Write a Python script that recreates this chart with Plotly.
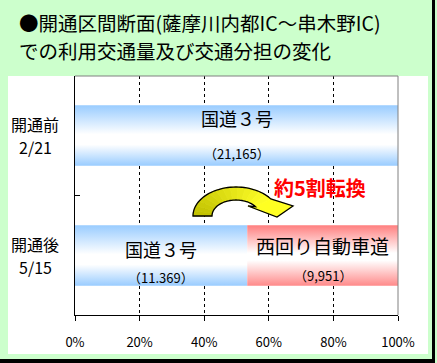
import math
import plotly.graph_objects as go

# ---------------- data ----------------
periods = ["開通前", "開通後"]
dates = ["2/21", "5/15"]
route_names = ["国道３号", "西回り自動車道"]
before_volume = [21165]            # 国道３号 only
after_volume = [11369, 9951]       # 国道３号, 西回り自動車道
before_count_text = ["（21,165）"]
after_count_text = ["（11.369）", "（9,951）"]
x_tick_vals = [0, 20, 40, 60, 80, 100]
x_tick_text = ["0%", "20%", "40%", "60%", "80%", "100%"]
grid_vals = [20, 40, 60, 80]
shift_text = "約5割転換"
title_lines = ["●開通区間断面(薩摩川内都IC～串木野IC)", "での利用交通量及び交通分担の変化"]

FONT = "Noto Sans CJK JP"
# gradient stops run bottom -> top of each bar
BLUE_SCALE = [[0, "#99CCFF"], [0.35, "#FFFFFF"], [0.52, "#FFFFFF"], [1, "#99CCFF"]]
RED_SCALE = [[0, "#FF8A8A"], [0.42, "#FFFFFF"], [0.54, "#FFFFFF"], [1, "#FF7F7F"]]

# ---------------- layout geometry (pixels) ----------------
W, H = 437, 363
L, R, T, B = 75, 398, 76, 315


def px(x):
    return (x - L) / (R - L)


def py(y):
    return (B - y) / (B - T)


UNIT = 120.0  # pixels per y unit
BAR_HALF = 0.252
rows = [
    {"y": 1, "values": before_volume, "counts": before_count_text, "scales": [BLUE_SCALE],
     "name_dy": [0.146], "count_dy": [-0.146], "name_size": [18]},
    {"y": 0, "values": after_volume, "counts": after_count_text, "scales": [BLUE_SCALE, RED_SCALE],
     "name_dy": [0.05, 0.085], "count_dy": [-0.18, -0.167], "name_size": [18, 19]},
]

fig = go.Figure()
annotations = []

for row in rows:
    total = sum(row["values"])
    left = 0.0
    for i, v in enumerate(row["values"]):
        share = v / total * 100
        right = left + share
        yc = row["y"]
        fig.add_trace(go.Scatter(
            x=[left, right, right, left, left],
            y=[yc - BAR_HALF, yc - BAR_HALF, yc + BAR_HALF, yc + BAR_HALF, yc - BAR_HALF],
            mode="lines", fill="toself", line=dict(width=0),
            fillgradient=dict(type="vertical", colorscale=row["scales"][i]),
            hoverinfo="skip", showlegend=False,
        ))
        mid = (left + right) / 2
        annotations.append(dict(x=mid, y=yc + row["name_dy"][i], xref="x", yref="y",
                                xanchor="center", text=route_names[i], showarrow=False,
                                font=dict(family=FONT, size=row["name_size"][i], color="black")))
        annotations.append(dict(x=mid, y=yc + row["count_dy"][i], xref="x", yref="y",
                                xanchor="center", text=row["counts"][i], showarrow=False,
                                font=dict(family=FONT, size=13, color="black")))
        left = right

# category labels (two lines each)
for yc, p, d in zip([1, 0], periods, dates):
    annotations.append(dict(x=px(35), y=yc + 11.5 / UNIT, xref="paper", yref="y", text=p,
                            xanchor="center", showarrow=False,
                            font=dict(family=FONT, size=16, color="black")))
    annotations.append(dict(x=px(35), y=yc - 11.5 / UNIT, xref="paper", yref="y", text=d,
                            xanchor="center", showarrow=False,
                            font=dict(family=FONT, size=16, color="black")))

# title
annotations.append(dict(x=px(17), y=py(23), xref="paper", yref="paper", xanchor="left",
                        yanchor="middle", text=title_lines[0], showarrow=False,
                        font=dict(family=FONT, size=19.5, color="black")))
annotations.append(dict(x=px(17), y=py(50.5), xref="paper", yref="paper", xanchor="left",
                        yanchor="middle", text=title_lines[1], showarrow=False,
                        font=dict(family=FONT, size=19.5, color="black")))

# red annotation
annotations.append(dict(x=px(320), y=py(187), xref="paper", yref="paper", xanchor="center",
                        yanchor="middle", text=f"<b>{shift_text}</b>", showarrow=False,
                        font=dict(family=FONT, size=20, color="#FF0000")))

shapes = []
# white panel
shapes.append(dict(type="rect", xref="paper", yref="paper", x0=px(8), x1=px(428),
                   y0=py(354), y1=py(76), fillcolor="white", line=dict(width=0), layer="below"))
# shadow border (right and bottom)
shapes.append(dict(type="rect", xref="paper", yref="paper", x0=px(432), x1=px(435),
                   y0=py(363), y1=py(0), fillcolor="black", line=dict(width=0), layer="above"))
shapes.append(dict(type="rect", xref="paper", yref="paper", x0=px(0), x1=px(435),
                   y0=py(363), y1=py(359), fillcolor="black", line=dict(width=0), layer="above"))
# grey top / right frame
shapes.append(dict(type="line", xref="paper", yref="paper", x0=0, x1=1, y0=1, y1=1,
                   line=dict(color="#808080", width=1), layer="above"))
shapes.append(dict(type="line", xref="paper", yref="paper", x0=1, x1=1, y0=0, y1=1,
                   line=dict(color="#808080", width=1), layer="above"))

# ---------------- curved arrow (decoration) ----------------
cx, cy = 236, 216
orx, ory = 43, 29
irx, iry = 24, 16
th_end = 36


def outer(t):
    a = math.radians(t)
    return (cx + orx * math.cos(a), cy - ory * math.sin(a))


def inner(t):
    a = math.radians(t)
    return (cx + irx * math.cos(a), cy - iry * math.sin(a))


def to_path(pts):
    return "M " + " L ".join(f"{px(x):.5f},{py(y):.5f}" for x, y in pts) + " Z"


n_seg = 14
for k in range(n_seg):
    t0 = 180 - (180 - th_end) * k / n_seg
    t1 = 180 - (180 - th_end) * (k + 1) / n_seg
    steps = 4
    pts = [outer(t0 + (t1 - t0) * s / steps) for s in range(steps + 1)]
    pts += [inner(t1 - (t1 - t0) * s / steps) for s in range(steps + 1)]
    f = (k + 0.5) / n_seg
    r = int(192 + (255 - 192) * f)
    col = f"rgb({r},{r},{int(0 + 40 * f)})"
    shapes.append(dict(type="path", xref="paper", yref="paper", path=to_path(pts),
                       fillcolor=col, line=dict(color=col, width=0.8), layer="above"))

head = [outer(th_end), (293, 206), (277, 217), (248, 206), inner(th_end)]
shapes.append(dict(type="path", xref="paper", yref="paper", path=to_path(head),
                   fillcolor="#FFFF22", line=dict(color="#FFFF22", width=0.8), layer="above"))

outline = [outer(180 - (180 - th_end) * s / 40) for s in range(41)]
outline += [(293, 206), (277, 217), (248, 206)]
outline += [inner(th_end + (180 - th_end) * s / 40) for s in range(41)]
shapes.append(dict(type="path", xref="paper", yref="paper", path=to_path(outline),
                   fillcolor="rgba(0,0,0,0)", line=dict(color="black", width=1.3), layer="above"))

fig.update_layout(
    width=W, height=H,
    margin=dict(l=L, r=W - R, t=T, b=H - B, pad=0),
    paper_bgcolor="#CCFFCC",
    plot_bgcolor="white",
    showlegend=False,
    annotations=annotations,
    shapes=shapes,
    xaxis=dict(range=[0, 100], tickvals=x_tick_vals, ticktext=x_tick_text,
               showgrid=False, zeroline=False, showline=True, linecolor="black", linewidth=1,
               ticks="outside", ticklen=5, tickcolor="black", ticklabelstandoff=10,
               tickfont=dict(family=FONT, size=13, color="black"), fixedrange=True,
               minor=dict(tickvals=grid_vals, showgrid=True, gridcolor="black",
                          griddash="3px,3px", gridwidth=1, ticks="")),
    yaxis=dict(range=[-0.496, 1.496], showticklabels=False, showgrid=False, zeroline=False,
               showline=True, linecolor="black", linewidth=1, ticks="", tickvals=[0, 1],
               fixedrange=True,
               minor=dict(tickvals=[0.5], ticks="inside", ticklen=5, tickcolor="black",
                          showgrid=False)),
)

fig.write_html("out.html", config={"displayModeBar": False},
               post_script="document.body.style.margin='0';document.body.style.padding='0';")
